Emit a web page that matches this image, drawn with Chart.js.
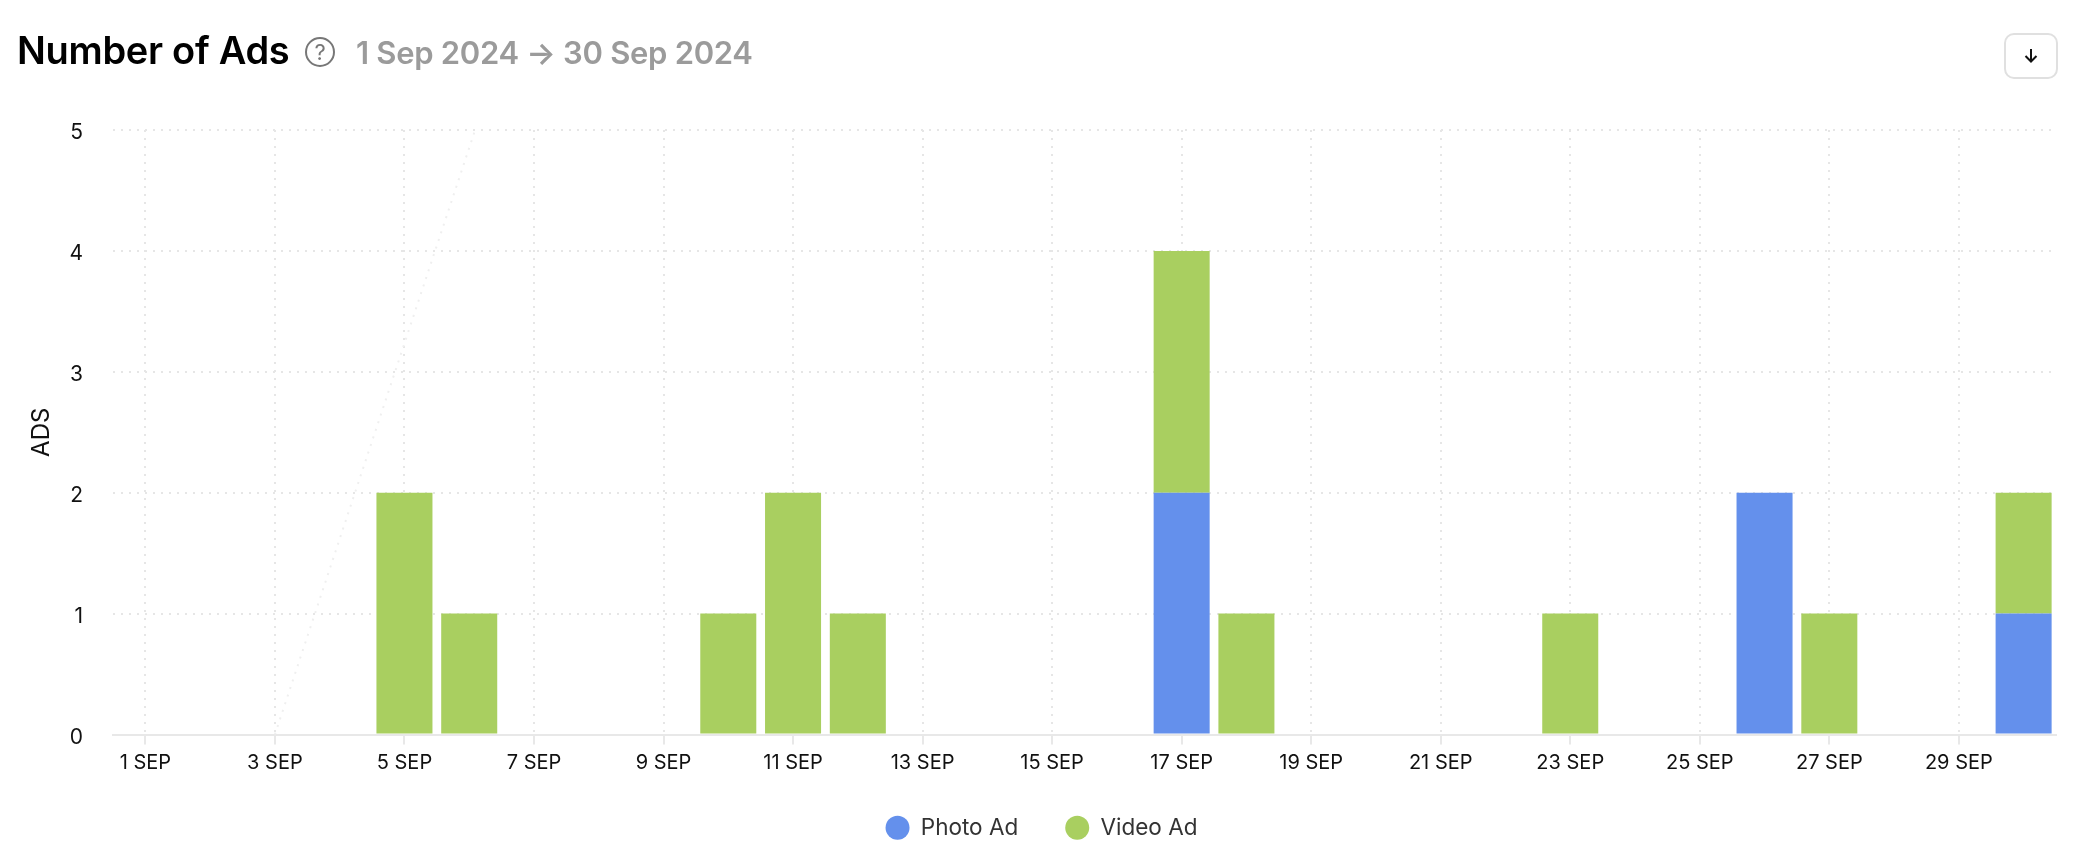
<!DOCTYPE html>
<html><head><meta charset="utf-8">
<script src="https://cdn.jsdelivr.net/npm/chart.js@4/dist/chart.umd.min.js"></script>
<style>
html,body{margin:0;padding:0;background:#fff;width:2100px;height:856px;overflow:hidden;font-family:Inter,sans-serif}
#wrap{position:absolute;left:0;top:0;width:2100px;height:856px}
canvas{position:absolute;left:0;top:0}
.t{position:absolute;white-space:nowrap;line-height:1}
#title{left:17px;top:31px;font-size:38px;font-weight:600;color:#000;letter-spacing:-0.3px}
#range{left:356px;top:37px;font-size:31px;font-weight:600;color:#9b9b9b;letter-spacing:-0.3px}
#help{position:absolute;left:303px;top:36px}
#btn{position:absolute;left:2004px;top:33px;width:50px;height:42px;border:2px solid #e0e0e0;border-radius:10px;background:#fff}
#btn svg{position:absolute;left:15px;top:11px}
</style></head><body>
<div id="wrap">
<canvas id="c" width="2100" height="856"></canvas>
<div class="t" id="title">Number of Ads</div>
<svg id="help" width="32" height="32" viewBox="0 0 32 32"><circle cx="17" cy="16" r="14" fill="none" stroke="#777" stroke-width="2"/><text x="17" y="23.500" font-size="22" text-anchor="middle" fill="#777" font-family="Inter">?</text></svg>
<div class="t" id="range">1 Sep 2024 → 30 Sep 2024</div>
<div id="btn"><svg width="20" height="20" viewBox="0 0 20 20"><path d="M10 3V15M4.500 10L10 15.500L15.500 10" fill="none" stroke="#111" stroke-width="2"/></svg></div>
</div>
<script>
const categories = ['1 SEP','2 SEP','3 SEP','4 SEP','5 SEP','6 SEP','7 SEP','8 SEP','9 SEP','10 SEP','11 SEP','12 SEP','13 SEP','14 SEP','15 SEP','16 SEP','17 SEP','18 SEP','19 SEP','20 SEP','21 SEP','22 SEP','23 SEP','24 SEP','25 SEP','26 SEP','27 SEP','28 SEP','29 SEP','30 SEP'];
const photoAd = [0,0,0,0,0,0,0,0,0,0,0,0,0,0,0,0,2,0,0,0,0,0,0,0,0,2,0,0,0,1];
const videoAd = [0,0,0,0,2,1,0,0,0,1,2,1,0,0,0,0,2,1,0,0,0,0,1,0,0,0,1,0,0,1];
const stray = [{x:'3 SEP',y:0},{x:'7 SEP',y:6.47}];
const yTitle = 'ADS';
const gridColor = '#e6e6e6';
const axisColor = '#e8e8e8';

new Chart(document.getElementById('c'),{
  data:{labels:categories,datasets:[
    {type:'line',label:'',data:stray,borderColor:'#efefef',borderWidth:2,borderDash:[2,6],pointRadius:0,stack:'stray',order:5},
    {type:'bar',label:'Photo Ad',data:photoAd,backgroundColor:'#6490EC',stack:'a',barPercentage:0.865,categoryPercentage:1},
    {type:'bar',label:'Video Ad',data:videoAd,backgroundColor:'#A9CF60',stack:'a',barPercentage:0.865,categoryPercentage:1}
  ]},
  options:{
    responsive:false,animation:false,
    layout:{padding:{left:27,right:44,top:130,bottom:7}},
    plugins:{
      tooltip:{enabled:false},
      legend:{position:'bottom',align:'center',
        labels:{usePointStyle:true,pointStyle:'circle',pointStyleWidth:24,boxHeight:17,padding:47,color:'#333',
          font:{family:'Inter',size:22.5},
          filter:i=>i.text!==''}}
    },
    scales:{
      x:{stacked:true,
        afterFit(s){s.height=35;s._computeLabelArea=()=>undefined},
        grid:{offset:false,color:gridColor,lineWidth:2,tickBorderDash:[],tickColor:axisColor,tickWidth:2,tickLength:10},
        border:{display:true,color:axisColor,width:2,dash:[2,6]},
        ticks:{color:'#111',font:{family:'Inter',size:20},padding:6,maxRotation:0,autoSkip:true,maxTicksLimit:15}
      },
      y:{stacked:true,min:0,max:5,
        afterFit(s){s.width=86},
        title:{display:true,text:yTitle,color:'#111',font:{family:'Inter',size:24},padding:0},
        grid:{color:gridColor,lineWidth:2,drawTicks:false,tickLength:0},
        border:{display:false,dash:[2,6]},
        ticks:{color:'#111',font:{family:'Inter',size:21},padding:30,stepSize:1,labelOffset:3}
      }
    }
  }
});
</script>
</body></html>
